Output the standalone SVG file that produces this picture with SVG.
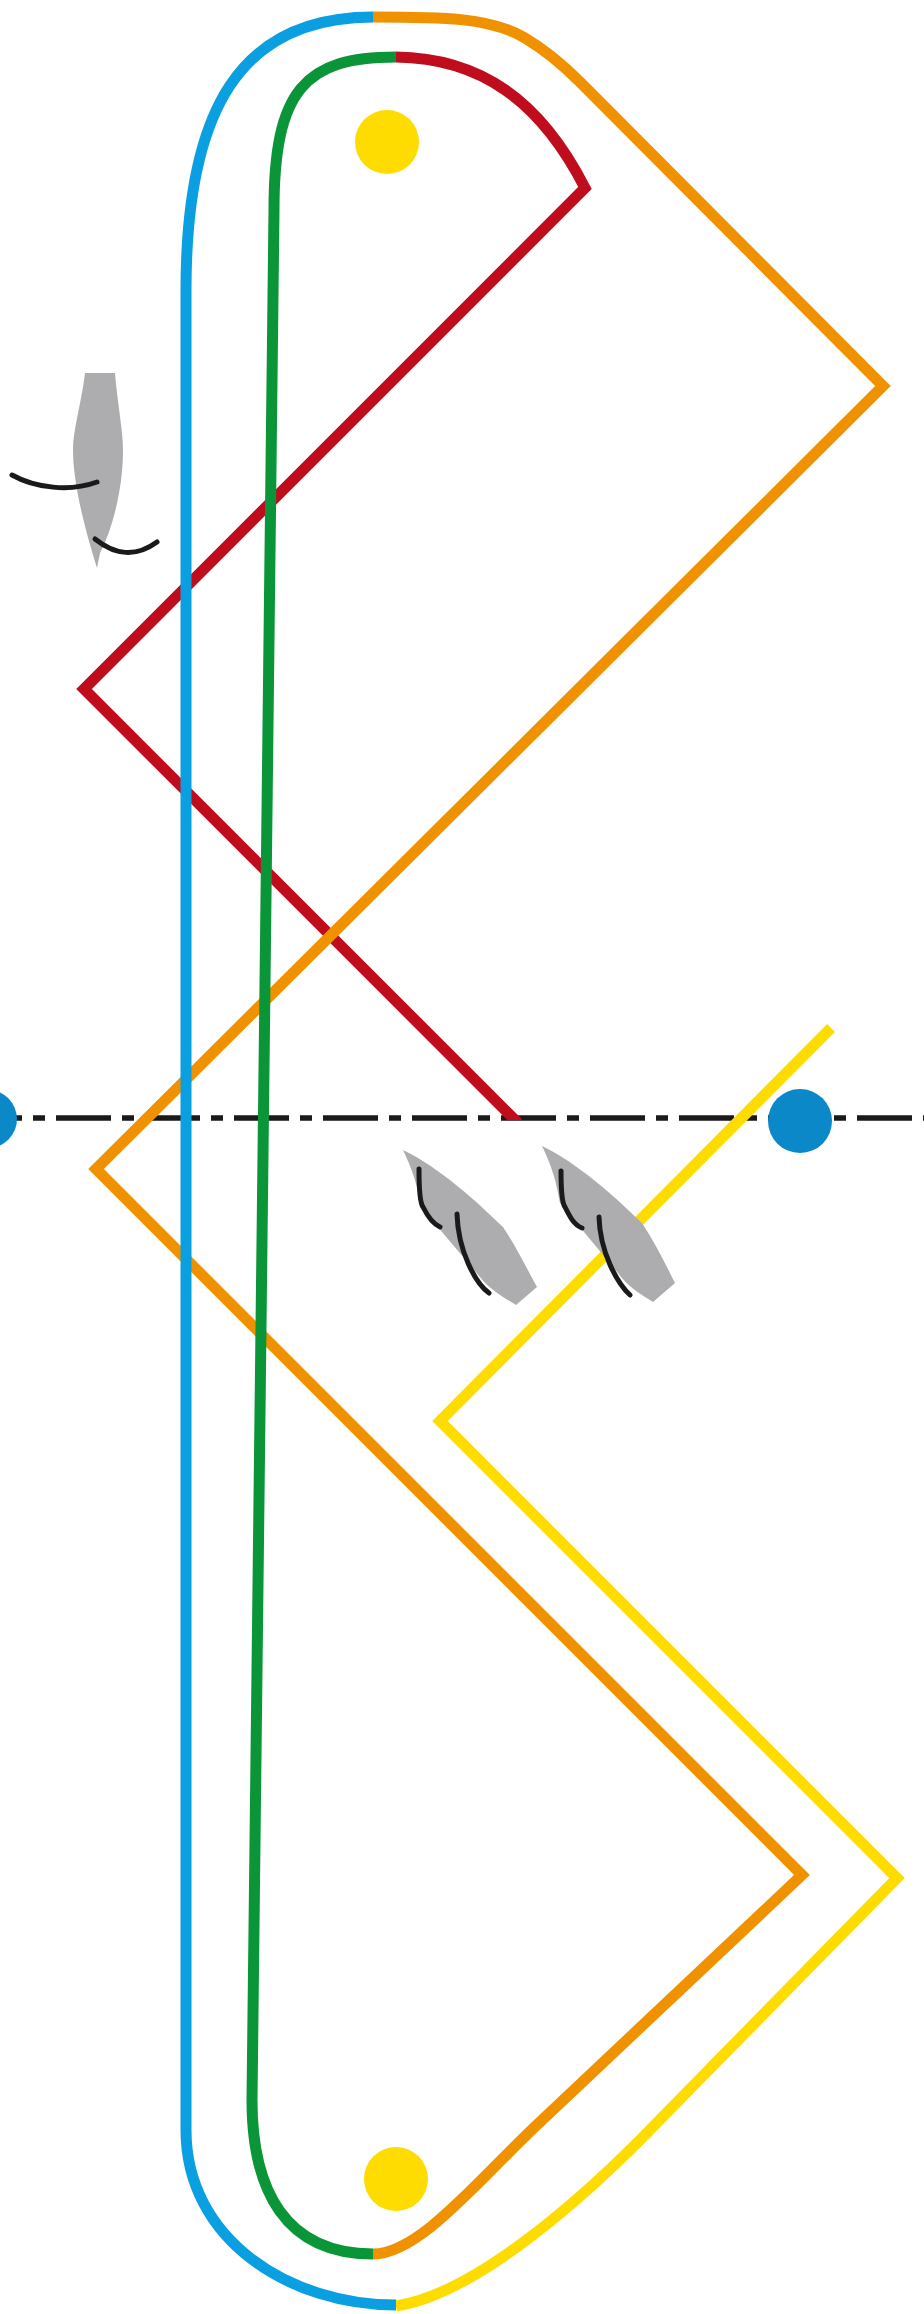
<svg xmlns="http://www.w3.org/2000/svg" width="924" height="2314" viewBox="0 0 924 2314">
<style>
.t{fill:none;stroke-width:11;stroke-linejoin:miter;stroke-miterlimit:10}
.b{fill:#adadb0}
.s{fill:none;stroke:#1a1a1a;stroke-width:5;stroke-linecap:round}
</style>
<defs><clipPath id="redclip"><rect x="0" y="0" width="924" height="1120"/></clipPath></defs>
<rect width="924" height="2314" fill="#fff"/>
<g id="axis"><path d="M0 1118H924" fill="none" stroke="#1a1a1a" stroke-width="5.5" stroke-dasharray="55 11 12 11" stroke-dashoffset="33"/></g>
<g id="marks">
<circle cx="800" cy="1121" r="32" fill="#0a88c8"/>
<circle cx="-12" cy="1119" r="29" fill="#0a88c8"/>
<circle cx="387" cy="142" r="32" fill="#ffdc00"/>
<circle cx="396" cy="2179" r="32" fill="#ffdc00"/>
</g>
<g id="connectors">
<path class="t" stroke="#ffdc00" d="M831 1028L440 1421L897 1878L640 2140C570 2210 470 2295 396 2306"/>
<path class="t" stroke="#c00d1e" clip-path="url(#redclip)" d="M396 57C480 58 540 100 585 188L84 689L518 1123"/>
<path class="t" stroke="#f09200" d="M373 17C440 17 490 17 525 38C545 50 560 62 580 82L883 386L96 1169L802 1875L540 2122C480 2178 420 2254 373 2254"/>
<path class="t" stroke="#0a9638" d="M396 57C305 57 274 90 274 210L252 2100C252 2190 285 2254 373 2254"/>
<path class="t" stroke="#0a9fe0" d="M373 17C240 17 186 110 186 290V2130C186 2240 290 2305 396 2305"/>
</g>
<g id="boat-1">
<path class="b" d="M85 373H115C117 400 123 430 123 450C123 490 112 530 100 553L97 568C90 545 73 490 73 450C73 430 82 400 85 373Z"/>
<path class="s" d="M12 475C35 488 70 492 97 482"/>
<path class="s" d="M95 539C115 555 135 558 157 542"/>
</g>
<g id="boat-2">
<path class="b" d="M403 1150C440 1168 475 1200 503 1227C515 1245 525 1265 537 1287L516 1305C505 1298 490 1290 480 1277L421 1207C418 1190 415 1175 403 1150Z"/>
<path class="s" d="M419 1169C419 1190 420 1203 423 1207C428 1217 433 1224 440 1227"/>
<path class="s" d="M457 1214C458 1250 475 1283 489 1293"/>
</g>
<g id="boat-3">
<path class="b" d="M542 1146C579 1164 614 1196 642 1223C654 1241 664 1261 675 1283L653 1302C642 1295 628 1287 618 1273L560 1203C557 1186 554 1171 542 1146Z"/>
<path class="s" d="M561 1171C561 1192 562 1203 565 1207C570 1217 574 1225 582 1228"/>
<path class="s" d="M599 1217C600 1252 617 1283 630 1295"/>
</g>
</svg>
